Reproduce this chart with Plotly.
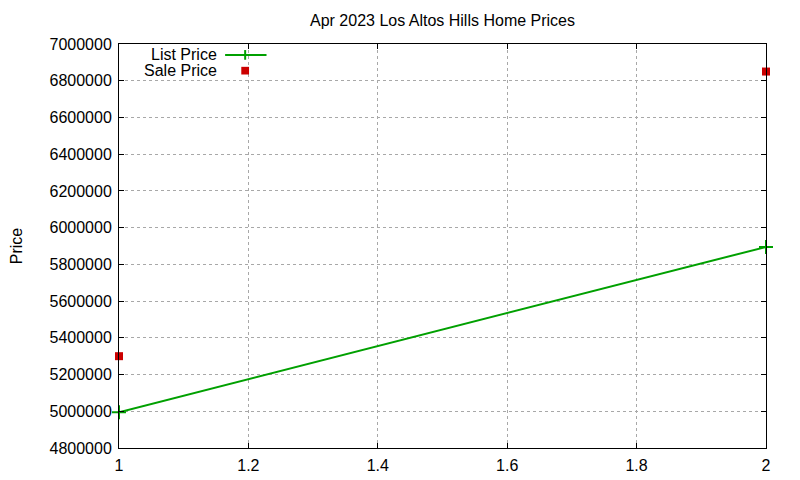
import plotly.graph_objects as go

# values
x_vals = [1, 2]
list_price = [4995000, 5895000]
sale_price = [5300000, 6850000]

title = "Apr 2023 Los Altos Hills Home Prices"
green = "rgb(0,160,0)"
red = "rgb(204,0,0)"
font = "Liberation Sans, Arial, sans-serif"

fig = go.Figure()
fig.add_trace(go.Scatter(
    x=x_vals, y=list_price, mode="lines+markers", name="List Price",
    line=dict(color=green, width=2),
    marker=dict(symbol="cross-thin", size=10, line=dict(color=green, width=2)),
    cliponaxis=False, showlegend=False))
fig.add_trace(go.Scatter(
    x=x_vals, y=sale_price, mode="markers", name="Sale Price",
    marker=dict(symbol="square", size=8, color=red),
    cliponaxis=False, showlegend=False))

axis_common = dict(
    showline=True, linecolor="black", linewidth=1, mirror="allticks",
    ticks="inside", ticklen=5, tickcolor="black", ticklabelstandoff=3,
    showgrid=True, gridcolor="#a8a8a8", griddash="dot", gridwidth=1,
    zeroline=False, automargin=False,
    tickfont=dict(size=16, color="black", family=font),
)
fig.update_xaxes(range=[1, 2], dtick=0.2, **axis_common)
fig.update_yaxes(range=[4800000, 7000000], dtick=200000, tickformat="d",
                 title=dict(text="Price", font=dict(size=16, family=font), standoff=34),
                 **axis_common)

# gnuplot-style key: text on the left, sample on the right
lx, sx0, sx1, sxc = 0.1545, 0.164, 0.228, 0.195
ly1, ly2 = 0.973, 0.934
fig.add_annotation(x=lx, y=ly1, xref="paper", yref="paper", text="List Price",
                   showarrow=False, xanchor="right", yanchor="middle",
                   font=dict(size=16, family=font, color="black"))
fig.add_annotation(x=lx, y=ly2, xref="paper", yref="paper", text="Sale Price",
                   showarrow=False, xanchor="right", yanchor="middle",
                   font=dict(size=16, family=font, color="black"))
fig.add_shape(type="line", xref="paper", yref="paper", x0=sx0, x1=sx1, y0=ly1, y1=ly1,
              line=dict(color=green, width=2))
fig.add_shape(type="line", xref="paper", yref="paper", x0=sxc, x1=sxc,
              y0=ly1 - 0.012, y1=ly1 + 0.012, line=dict(color=green, width=2))
fig.add_shape(type="rect", xref="paper", yref="paper",
              x0=sxc - 0.006, x1=sxc + 0.006, y0=ly2 - 0.0095, y1=ly2 + 0.0095,
              fillcolor=red, line=dict(width=0))

# page body adds ~8px offset, margins compensate
fig.update_layout(
    width=800, height=480,
    title=dict(text=title, x=0.5, xref="paper", xanchor="center", y=0.975, yanchor="middle",
               font=dict(size=16, family=font, color="black")),
    margin=dict(l=111, r=42, t=36, b=40),
    plot_bgcolor="white", paper_bgcolor="white",
    font=dict(family=font, color="black"),
)

fig.write_html("out.html")
